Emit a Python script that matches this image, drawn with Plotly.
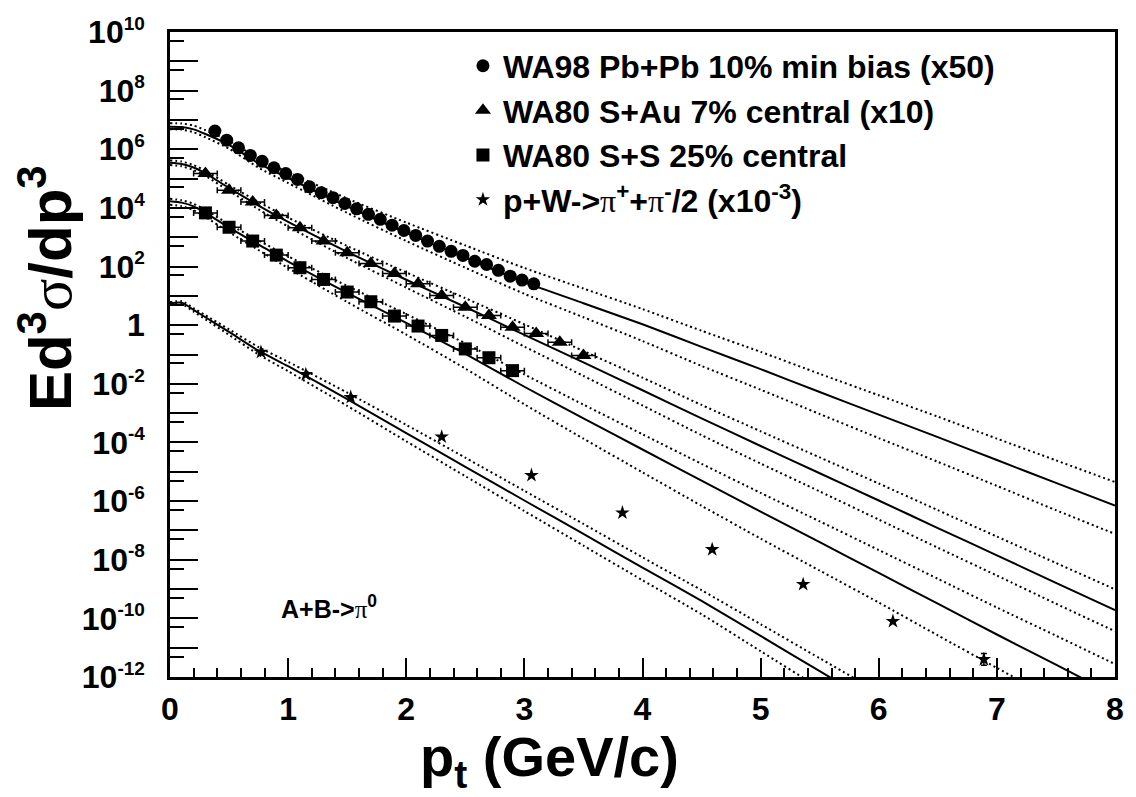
import numpy as np
import plotly.graph_objects as go

# ---------------- data (values are log10 of E d3sigma/dp3) ----------------
pbpb_pt = [0.38, 0.48, 0.58, 0.68, 0.78, 0.88, 0.98, 1.08, 1.18, 1.28, 1.38, 1.48, 1.58, 1.68,
           1.78, 1.88, 1.98, 2.08, 2.18, 2.28, 2.38, 2.48, 2.58, 2.68, 2.78, 2.88, 2.98, 3.08]
pbpb_log = [6.62, 6.31, 6.05, 5.79, 5.59, 5.37, 5.17, 4.97, 4.72, 4.52, 4.35, 4.15, 3.97, 3.78,
            3.61, 3.41, 3.23, 3.06, 2.87, 2.69, 2.52, 2.38, 2.18, 2.07, 1.87, 1.67, 1.54, 1.41]

sau_pt = [0.3, 0.5, 0.7, 0.9, 1.1, 1.3, 1.5, 1.7, 1.9, 2.1, 2.3, 2.5, 2.7, 2.9, 3.1, 3.3, 3.5]
sau_log = [5.17, 4.60, 4.20, 3.74, 3.32, 2.87, 2.47, 2.10, 1.76, 1.41, 1.01, 0.61, 0.33, -0.07,
           -0.28, -0.58, -1.03]
sau_xerr = [0.1] * 17

ss_pt = [0.3, 0.5, 0.7, 0.9, 1.1, 1.3, 1.5, 1.7, 1.9, 2.1, 2.3, 2.5, 2.7, 2.9]
ss_log = [3.83, 3.34, 2.87, 2.39, 1.96, 1.56, 1.13, 0.80, 0.31, -0.03, -0.35, -0.81, -1.11, -1.55]
ss_xerr = [0.1] * 14

pw_pt = [0.77, 1.15, 1.53, 2.30, 3.06, 3.83, 4.59, 5.36, 6.12, 6.89]
pw_log = [-0.92, -1.68, -2.46, -3.81, -5.12, -6.40, -7.65, -8.84, -10.10, -11.40]
pw_err_dec = [0, 0, 0, 0, 0, 0, 0, 0, 0, 0.2]

# theory curves (central, upper, lower) on a pt grid
fit_pt = [0, 0.1, 0.2, 0.3, 0.5, 0.75, 1.0, 1.5, 2.0, 2.5, 3.0, 3.5, 4.0, 4.5, 5.0, 5.5, 6.0,
          6.5, 7.0, 7.5, 8.0]
c1_mid = [6.77, 6.76, 6.68, 6.52, 6.15, 5.52, 5.02, 4.05, 3.15, 2.30, 1.47, 0.75, 0.03, -0.74,
          -1.50, -2.28, -3.05, -3.82, -4.60, -5.38, -6.15]
c1_up = [6.89, 6.88, 6.81, 6.65, 6.29, 5.69, 5.22, 4.32, 3.50, 2.72, 1.95, 1.25, 0.55, -0.19,
         -0.91, -1.66, -2.39, -3.12, -3.87, -4.61, -5.35]
c1_lo = [6.68, 6.67, 6.58, 6.41, 6.02, 5.37, 4.85, 3.83, 2.87, 1.96, 1.07, 0.27, -0.54, -1.39,
         -2.20, -3.03, -3.85, -4.66, -5.48, -6.31, -7.12]
c2_mid = [5.54, 5.50, 5.38, 5.18, 4.68, 4.08, 3.52, 2.50, 1.55, 0.62, -0.33, -1.27, -2.22, -3.18,
          -4.12, -5.05, -5.98, -6.92, -7.85, -8.79, -9.72]
c2_up = [5.62, 5.58, 5.46, 5.27, 4.78, 4.20, 3.67, 2.70, 1.80, 0.92, 0.03, -0.88, -1.79, -2.72,
         -3.62, -4.51, -5.40, -6.31, -7.21, -8.11, -9.01]
c2_lo = [5.46, 5.42, 5.29, 5.09, 4.58, 3.95, 3.36, 2.29, 1.28, 0.29, -0.73, -1.73, -2.74, -3.75,
         -4.72, -5.67, -6.63, -7.59, -8.54, -9.50, -10.44]
c3_mid = [4.23, 4.18, 4.05, 3.83, 3.33, 2.75, 2.17, 1.10, 0.08, -0.98, -2.10, -3.18, -4.24, -5.30,
          -6.36, -7.40, -8.45, -9.50, -10.55, -11.58, -12.62]
c3_up = [4.31, 4.26, 4.14, 3.93, 3.44, 2.89, 2.35, 1.34, 0.38, -0.62, -1.68, -2.71, -3.72, -4.73,
         -5.72, -6.69, -7.67, -8.65, -9.63, -10.59, -11.56]
c3_lo = [4.11, 4.06, 3.92, 3.69, 3.17, 2.56, 1.95, 0.79, -0.32, -1.48, -2.70, -3.87, -5.02, -6.16,
         -7.28, -8.37, -9.46, -10.58, -11.69, -12.78, -13.87]
c4_pt = [0, 0.1, 0.2, 0.3, 0.5, 0.75, 1.0, 1.5, 2.0, 2.5, 3.0, 3.5, 4.0, 4.5, 5.0, 5.5, 6.0]
c4_mid = [0.74, 0.77, 0.52, 0.27, -0.23, -0.87, -1.40, -2.52, -3.68, -4.83, -5.98, -7.12, -8.27,
          -9.40, -10.60, -11.80, -13.00]
c4_up = [0.79, 0.82, 0.58, 0.34, -0.14, -0.75, -1.25, -2.30, -3.40, -4.52, -5.65, -6.78, -7.92,
         -9.04, -10.20, -11.36, -12.52]
c4_lo = [0.69, 0.72, 0.46, 0.20, -0.33, -1.00, -1.57, -2.75, -3.96, -5.15, -6.34, -7.52, -8.70,
         -9.86, -11.12, -12.38, -13.64]

x_tick_labels = ["0", "1", "2", "3", "4", "5", "6", "7", "8"]
y_label_exponents = [-12, -10, -8, -6, -4, -2, 0, 2, 4, 6, 8, 10]
y_odd_exponents = [-11, -9, -7, -5, -3, -1, 1, 3, 5, 7, 9]
y_half_exponents = list(range(-12, 10))   # short ticks at 5 x 10^k

PI = "<span style='font-family:Liberation Serif;font-weight:normal'>\u03c0</span>"
legend_names = [
    "WA98 Pb+Pb 10% min bias (x50)",
    "WA80 S+Au 7% central (x10)",
    "WA80 S+S 25% central",
    "p+W->" + PI + "<sup>+</sup>+" + PI + "<sup>-</sup>/2 (x10<sup>-3</sup>)",
]

FONT = "Liberation Sans"


def p10(a):
    return np.power(10.0, np.array(a, dtype=float))


fig = go.Figure()

# theory curves
for xs, trio in [(fit_pt, (c1_mid, c1_up, c1_lo)), (fit_pt, (c2_mid, c2_up, c2_lo)),
                 (fit_pt, (c3_mid, c3_up, c3_lo)), (c4_pt, (c4_mid, c4_up, c4_lo))]:
    mid, up, lo = trio
    for ys, dash in [(up, "2px,3px"), (lo, "2px,3px"), (mid, "solid")]:
        fig.add_trace(go.Scatter(x=xs, y=p10(ys), mode="lines", showlegend=False,
                                 line=dict(color="black", width=2, dash=dash, shape="spline",
                                           smoothing=0.6),
                                 hoverinfo="skip"))

# data
fig.add_trace(go.Scatter(x=pbpb_pt, y=p10(pbpb_log), mode="markers", name=legend_names[0],
                         legendgroup="a",
                         marker=dict(symbol="circle", size=13, color="black")))
fig.add_trace(go.Scatter(x=sau_pt, y=p10(sau_log), mode="markers", name=legend_names[1],
                         legendgroup="b",
                         error_x=dict(type="data", array=sau_xerr, color="black", thickness=1.5,
                                      width=3),
                         marker=dict(symbol="triangle-up", size=14, color="black")))
fig.add_trace(go.Scatter(x=ss_pt, y=p10(ss_log), mode="markers", name=legend_names[2],
                         legendgroup="c",
                         error_x=dict(type="data", array=ss_xerr, color="black", thickness=1.5,
                                      width=3),
                         marker=dict(symbol="square", size=13, color="black")))
pw_y = p10(pw_log)
pw_plus = p10(np.array(pw_log) + np.array(pw_err_dec)) - pw_y
pw_minus = pw_y - p10(np.array(pw_log) - np.array(pw_err_dec))
fig.add_trace(go.Scatter(x=pw_pt, y=pw_y, mode="markers", name=legend_names[3],
                         legendgroup="d",
                         error_y=dict(type="data", array=pw_plus, arrayminus=pw_minus,
                                      color="black", thickness=1.5, width=3),
                         marker=dict(symbol="star", size=11, color="black")))

# invisible trace that carries the overlaid axis for the short ticks
fig.add_trace(go.Scatter(x=[None], y=[None], xaxis="x", yaxis="y2", showlegend=False,
                         hoverinfo="skip"))

y_tickvals = [10.0 ** k for k in y_label_exponents]
y_ticktext = ["1" if k == 0 else "10<sup><span style='font-size:19px'>%d</span></sup>" % k
              for k in y_label_exponents]

fig.update_layout(
    width=1136, height=797,
    margin=dict(l=170, r=13, t=32, b=120),
    paper_bgcolor="white", plot_bgcolor="white",
    font=dict(family=FONT, color="black"),
    xaxis=dict(range=[0, 8], showgrid=False, zeroline=False, showline=True, mirror=True,
               linecolor="black", linewidth=2.5, ticks="inside", ticklen=19, tickwidth=2,
               tickcolor="black", tickvals=list(range(9)), ticktext=x_tick_labels,
               tickfont=dict(size=32, family=FONT, weight="bold"), ticklabelstandoff=2,
               minor=dict(ticks="inside", ticklen=9, tickwidth=2, tickcolor="black",
                          dtick=0.2, tick0=0, showgrid=False)),
    yaxis=dict(type="log", range=[-12, 10], showgrid=False, zeroline=False, showline=True,
               mirror=True, linecolor="black", linewidth=2.5, ticks="inside", ticklen=28,
               tickwidth=2, tickcolor="black", tickmode="array", tickvals=y_tickvals,
               ticktext=y_ticktext, tickfont=dict(size=32, family=FONT, weight="bold"),
               ticklabelstandoff=16,
               minor=dict(ticks="inside", ticklen=28, tickwidth=2, tickcolor="black",
                          tickmode="array", tickvals=[10.0 ** k for k in y_odd_exponents],
                          showgrid=False)),
    yaxis2=dict(type="log", range=[-12, 10], overlaying="y", side="left", showgrid=False,
                zeroline=False, showline=False, showticklabels=False, ticks="inside",
                ticklen=14, tickwidth=2, tickcolor="black", tickmode="array",
                tickvals=[5.0 * 10.0 ** k for k in y_half_exponents]),
    legend=dict(x=0.31, y=0.99, xanchor="left", yanchor="top", bgcolor="rgba(0,0,0,0)",
                font=dict(size=32, family=FONT, weight="bold", color="black"),
                tracegroupgap=0, traceorder="grouped"),
    annotations=[
        dict(text="p<sub>t</sub> (GeV/c)", xref="paper", yref="paper",
             x=(553 - 170) / 953, y=-(760 - 677) / 645, xanchor="center", yanchor="middle",
             showarrow=False, font=dict(size=56, family=FONT, weight="bold")),
        dict(text="Ed<sup>3</sup><span style='font-family:Liberation Serif;font-weight:normal'>\u03c3</span>/dp<sup>3</sup>",
             xref="paper", yref="paper", textangle=-90,
             x=-(170 - 45) / 953, y=1 - (288 - 32) / 645, xanchor="center", yanchor="middle",
             showarrow=False, font=dict(size=60, family=FONT, weight="bold")),
        dict(text="A+B->" + PI + "<sup>0</sup>",
             xref="paper", yref="paper", x=(280 - 170) / 953, y=1 - (607 - 32) / 645,
             xanchor="left", yanchor="middle", showarrow=False,
             font=dict(size=25, family=FONT, weight="bold")),
    ],
)

fig.write_html("out.html")
